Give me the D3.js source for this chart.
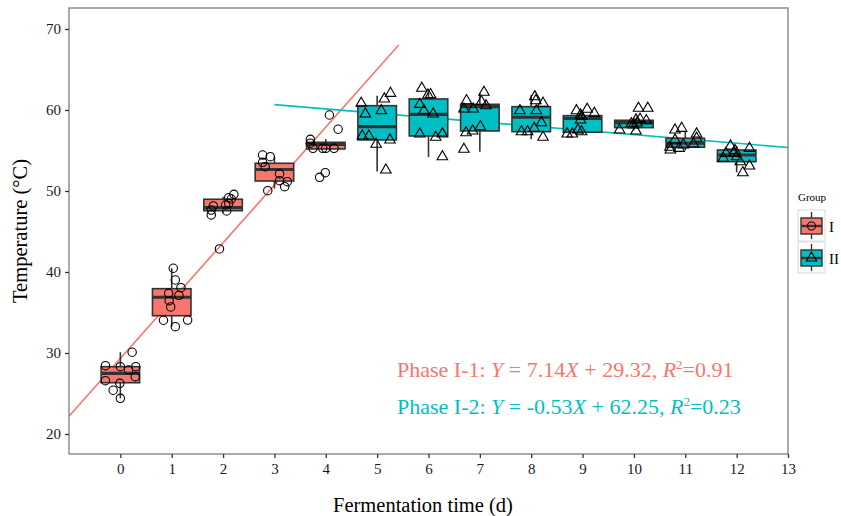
<!DOCTYPE html>
<html>
<head>
<meta charset="utf-8">
<script src="https://cdn.jsdelivr.net/npm/d3@7"></script>
<style>
  body { margin: 0; background: #fff; }
  svg { display: block; font-family: "Liberation Serif", "DejaVu Serif", serif; }
</style>
</head>
<body>
<div id="chart"></div>
<script>
// fermentation day and group of each box
const days = [0, 1, 2, 3, 4, 5, 6, 7, 8, 9, 10, 11, 12];
const groups = ["I", "I", "I", "I", "I", "II", "II", "II", "II", "II", "II", "II", "II"];

// box stats: lower whisker, Q1, median, Q3, upper whisker
const whiskerLo = [24.4, 33.25, 47.3, 50.3, 55.2, 52.4, 54.2, 54.85, 56.4, 57.0, 57.5, 55.0, 52.3];
const q1 =        [26.33, 34.6, 47.57, 51.23, 55.19, 56.3, 56.79, 57.41, 57.32, 57.25, 57.82, 55.4, 53.62];
const median =    [27.49, 36.88, 47.95, 52.65, 55.74, 57.94, 59.47, 60.41, 59.1, 58.95, 58.43, 55.89, 54.44];
const q3 =        [28.31, 37.94, 48.98, 53.42, 56.01, 60.53, 61.36, 60.7, 60.41, 59.3, 58.73, 56.51, 55.06];
const whiskerHi = [30.09, 40.46, 49.3, 54.23, 56.4, 61.77, 62.1, 62.06, 61.85, 60.0, 59.0, 57.3, 55.56];

// jittered observations per day: [x offset, temperature]
const points = [
  [[-0.29, 28.43], [0, 28.31], [0.23, 30.09], [0.3, 28.31], [0.16, 27.9], [0.29, 27.07], [-0.29, 26.58], [-0.01, 26.26], [-0.14, 25.4], [0, 24.4]],
  [[0.03, 40.46], [0.07, 39.01], [0.18, 38.06], [-0.06, 37.37], [0.14, 37.12], [-0.05, 36.46], [-0.02, 35.68], [-0.16, 34.04], [0.31, 34.07], [0.07, 33.25]],
  [[-0.23, 47.65], [-0.23, 47.04], [-0.19, 48.15], [0.05, 48.27], [0.11, 49.17], [0.16, 49.01], [0.21, 49.59], [0.07, 47.53], [0.11, 48.48], [-0.07, 42.84]],
  [[-0.23, 54.44], [-0.08, 54.23], [-0.23, 53.54], [-0.18, 53.0], [0.1, 52.1], [0.1, 51.27], [0.25, 51.15], [0.2, 50.53], [-0.13, 50.04]],
  [[-0.3, 56.38], [-0.25, 55.27], [-0.06, 55.27], [0, 55.27], [0.16, 55.27], [-0.12, 51.69], [-0.01, 52.26], [0.07, 59.38], [0.24, 57.62], [-0.3, 55.9]],
  [[-0.31, 60.83], [-0.23, 59.51], [0.08, 59.91], [0.14, 61.36], [0.26, 62.06], [-0.29, 56.79], [-0.16, 56.79], [-0.02, 55.77], [0.25, 56.3], [0.17, 52.59]],
  [[-0.13, 62.68], [-0.01, 61.85], [0.04, 61.9], [-0.17, 60.7], [-0.09, 59.91], [0.09, 59.51], [-0.17, 57.04], [0.14, 56.63], [0.27, 57.04], [0.27, 54.23]],
  [[0.08, 62.19], [0.03, 61.03], [-0.26, 61.15], [-0.31, 60.12], [-0.13, 60.12], [0.12, 60.53], [0.01, 57.94], [-0.27, 57.2], [-0.14, 57.41], [-0.31, 55.15]],
  [[0.07, 61.64], [0.09, 61.15], [0.23, 60.83], [-0.22, 59.91], [0.1, 59.91], [0.2, 58.43], [0.06, 57.74], [-0.19, 57.32], [-0.07, 57.32], [0.23, 56.63]],
  [[-0.12, 59.91], [0.09, 60.09], [0.23, 59.59], [-0.04, 59.38], [-0.04, 58.77], [-0.09, 57.53], [-0.3, 57.04], [-0.2, 57.04], [-0.02, 57.32], [-0.02, 59.2]],
  [[0.09, 60.21], [0.27, 60.21], [0.04, 58.77], [0.12, 58.85], [0.24, 58.68], [-0.01, 58.15], [-0.28, 57.53], [0.04, 57.41], [0.06, 58.4], [-0.05, 58.3]],
  [[-0.2, 57.53], [-0.07, 57.74], [0.22, 57.04], [-0.2, 56.3], [0.22, 56.51], [-0.3, 55.4], [-0.12, 55.27], [-0.04, 55.68], [0.16, 55.8], [-0.29, 55.06]],
  [[-0.12, 55.56], [0.25, 55.27], [-0.21, 54.65], [-0.06, 54.65], [0, 54.23], [-0.26, 54.04], [0.07, 53.62], [0.25, 53.09], [0.12, 52.26], [-0.03, 55.0]]
];

// fitted lines: slope, intercept, x range
const fit1 = { slope: 7.14, intercept: 29.32, from: -1, to: 5.42 };
const fit2 = { slope: -0.53, intercept: 62.25, from: 3, to: 13 };

const xTicks = d3.range(0, 14);
const yTicks = [20, 30, 40, 50, 60, 70];
const groupColors = { I: "#F8766D", II: "#00BFC4" };

const width = 841, height = 516;
const margin = { top: 8, right: 53, bottom: 62, left: 69 };

const svg = d3.select("#chart").append("svg")
  .attr("width", width)
  .attr("height", height);

const x = d3.scaleLinear().domain([-1, 13]).range([margin.left, width - margin.right]);
const y = d3.scaleLinear().domain([17.53, 72.59]).range([height - margin.bottom, margin.top]);

const boxW = x(0.375) - x(0);
const boxStroke = "#333333";

// lines first so boxes sit on top of them
const fitLine = f => [[f.from, f.intercept + f.slope * f.from], [f.to, f.intercept + f.slope * f.to]];
[[fit1, groupColors.I], [fit2, groupColors.II]].forEach(([f, c]) => {
  svg.append("path")
    .datum(fitLine(f))
    .attr("fill", "none")
    .attr("stroke", c)
    .attr("stroke-width", 1.6)
    .attr("d", d3.line().x(d => x(d[0])).y(d => y(d[1])));
});

// boxplots
const boxes = svg.append("g");
days.forEach((d, i) => {
  const g = boxes.append("g");
  g.append("line")
    .attr("x1", x(d)).attr("x2", x(d))
    .attr("y1", y(whiskerHi[i])).attr("y2", y(whiskerLo[i]))
    .attr("stroke", boxStroke).attr("stroke-width", 1.6);
  g.append("rect")
    .attr("x", x(d) - boxW).attr("width", boxW * 2)
    .attr("y", y(q3[i])).attr("height", y(q1[i]) - y(q3[i]))
    .attr("fill", groupColors[groups[i]])
    .attr("stroke", boxStroke).attr("stroke-width", 1.6);
  g.append("line")
    .attr("x1", x(d) - boxW).attr("x2", x(d) + boxW)
    .attr("y1", y(median[i])).attr("y2", y(median[i]))
    .attr("stroke", boxStroke).attr("stroke-width", 3.2);
});

// jittered points
const tri = d3.symbol().type(d3.symbolTriangle).size(48);
const pts = svg.append("g");
days.forEach((d, i) => {
  points[i].forEach(p => {
    if (groups[i] === "I") {
      pts.append("circle")
        .attr("cx", x(d + p[0])).attr("cy", y(p[1])).attr("r", 4.2)
        .attr("fill", "none").attr("stroke", "#000").attr("stroke-width", 1.1);
    } else {
      pts.append("path")
        .attr("d", tri)
        .attr("transform", `translate(${x(d + p[0])},${y(p[1])})`)
        .attr("fill", "none").attr("stroke", "#000").attr("stroke-width", 1.1);
    }
  });
});

// panel border
svg.append("rect")
  .attr("x", margin.left).attr("y", margin.top)
  .attr("width", width - margin.left - margin.right)
  .attr("height", height - margin.top - margin.bottom)
  .attr("fill", "none").attr("stroke", "#7f7f7f").attr("stroke-width", 1.3);

// axes
const xAxis = svg.append("g")
  .attr("transform", `translate(0,${height - margin.bottom})`)
  .call(d3.axisBottom(x).tickValues(xTicks).tickSize(4).tickPadding(5).tickFormat(d3.format("d")));
const yAxis = svg.append("g")
  .attr("transform", `translate(${margin.left},0)`)
  .call(d3.axisLeft(y).tickValues(yTicks).tickSize(4).tickPadding(4));
[xAxis, yAxis].forEach(a => {
  a.select(".domain").remove();
  a.selectAll(".tick line").attr("stroke", "#333").attr("stroke-width", 1.3);
  a.selectAll(".tick text")
    .attr("fill", "#1a1a1a")
    .style("font-family", "Liberation Serif, serif")
    .style("font-size", "15px");
});

// axis titles
svg.append("text")
  .attr("x", 423)
  .attr("y", 512)
  .attr("text-anchor", "middle")
  .style("font-size", "20.5px")
  .text("Fermentation time (d)");
svg.append("text")
  .attr("transform", `translate(27,${(margin.top + height - margin.bottom) / 2}) rotate(-90)`)
  .attr("text-anchor", "middle")
  .style("font-size", "20.5px")
  .text("Temperature (°C)");

// regression equations
const eqs = [
  { label: "Phase I-1: ", a: "7.14", b: "29.32", r2: "0.91", color: groupColors.I, yv: 377 },
  { label: "Phase I-2: ", a: "-0.53", b: "62.25", r2: "0.23", color: groupColors.II, yv: 414 }
];
eqs.forEach(e => {
  const t = svg.append("text")
    .attr("x", 397).attr("y", e.yv)
    .attr("fill", e.color)
    .style("font-size", "22px");
  t.append("tspan").text(e.label);
  t.append("tspan").style("font-style", "italic").text("Y");
  t.append("tspan").text(` = ${e.a}`);
  t.append("tspan").style("font-style", "italic").text("X");
  t.append("tspan").text(` + ${e.b}, `);
  t.append("tspan").style("font-style", "italic").text("R");
  t.append("tspan").attr("dy", -8).style("font-size", "13px").text("2");
  t.append("tspan").attr("dy", 8).text(`=${e.r2}`);
});

// legend
const legend = svg.append("g").attr("transform", "translate(798,0)");
legend.append("text")
  .attr("x", 0).attr("y", 201)
  .style("font-size", "11px")
  .text("Group");
["I", "II"].forEach((grp, i) => {
  const k = legend.append("g").attr("transform", `translate(0,${210 + i * 32})`);
  k.append("rect")
    .attr("width", 27).attr("height", 31)
    .attr("fill", "#fff").attr("stroke", "#d9d9d9").attr("stroke-width", 1);
  k.append("line")
    .attr("x1", 13.5).attr("x2", 13.5).attr("y1", 2).attr("y2", 29)
    .attr("stroke", boxStroke).attr("stroke-width", 1.4);
  k.append("rect")
    .attr("x", 3).attr("y", 8).attr("width", 21).attr("height", 16)
    .attr("fill", groupColors[grp]).attr("stroke", boxStroke).attr("stroke-width", 1.4);
  k.append("line")
    .attr("x1", 3).attr("x2", 24).attr("y1", 16).attr("y2", 16)
    .attr("stroke", boxStroke).attr("stroke-width", 2.4);
  if (grp === "I") {
    k.append("circle").attr("cx", 13.5).attr("cy", 16).attr("r", 4)
      .attr("fill", "none").attr("stroke", "#000").attr("stroke-width", 1.1);
  } else {
    k.append("path").attr("d", tri).attr("transform", "translate(13.5,16)")
      .attr("fill", "none").attr("stroke", "#000").attr("stroke-width", 1.1);
  }
  legend.append("text")
    .attr("x", 31).attr("y", 232 + i * 32)
    .style("font-size", "15px")
    .text(grp);
});
</script>
</body>
</html>
